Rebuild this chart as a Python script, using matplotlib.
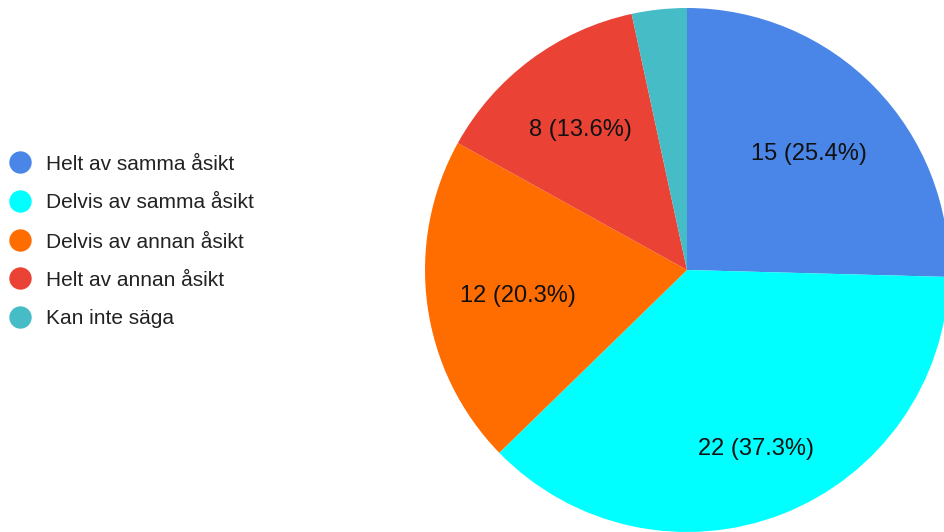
import numpy as np
import matplotlib
matplotlib.use("Agg")
import matplotlib.pyplot as plt

categories = ["Helt av samma åsikt", "Delvis av samma åsikt", "Delvis av annan åsikt",
              "Helt av annan åsikt", "Kan inte säga"]
counts = [15, 22, 12, 8, 2]
colors = ["#4a86e8", "#00ffff", "#ff6d01", "#ea4335", "#46bdc6"]

plt.rcParams["font.family"] = ["Liberation Sans", "DejaVu Sans"]

W, H = 945, 532
fig = plt.figure(figsize=(W / 100, H / 100), dpi=100)

# pie axes placed in pixels: centre (687, 270), radius 262
cx, cy, r = 687, 270, 262
ax = fig.add_axes([(cx - r) / W, (H - cy - r) / H, 2 * r / W, 2 * r / H])
total = sum(counts)
wedges, _ = ax.pie(counts, colors=colors, startangle=90, counterclock=False,
                   radius=1, wedgeprops=dict(linewidth=0))
label_dist = [0.65, 0.72, 0.65, 0.68, 0.65]
for w, c, d in zip(wedges, counts, label_dist):
    if c / total < 0.05:
        continue
    ang = np.deg2rad((w.theta1 + w.theta2) / 2)
    ax.text(d * np.cos(ang), d * np.sin(ang) - 0.012, f"{c} ({c / total * 100:.1f}%)",
            ha="center", va="center", fontsize=17, color="#111111")
ax.set_xlim(-1, 1)
ax.set_ylim(-1, 1)
ax.set_aspect("auto")
ax.axis("off")

# legend drawn in pixel coordinates
lax = fig.add_axes([0, 0, 1, 1], zorder=-1)
lax.set_xlim(0, W)
lax.set_ylim(H, 0)
lax.axis("off")
ys = [162, 201, 240, 278, 317]
for y, name, col in zip(ys, categories, colors):
    lax.scatter([20], [y], s=260, color=col, linewidths=0)
    lax.text(46, y + 2, name, ha="left", va="center", fontsize=15, color="#222222")

fig.savefig("out.png", dpi=100)
